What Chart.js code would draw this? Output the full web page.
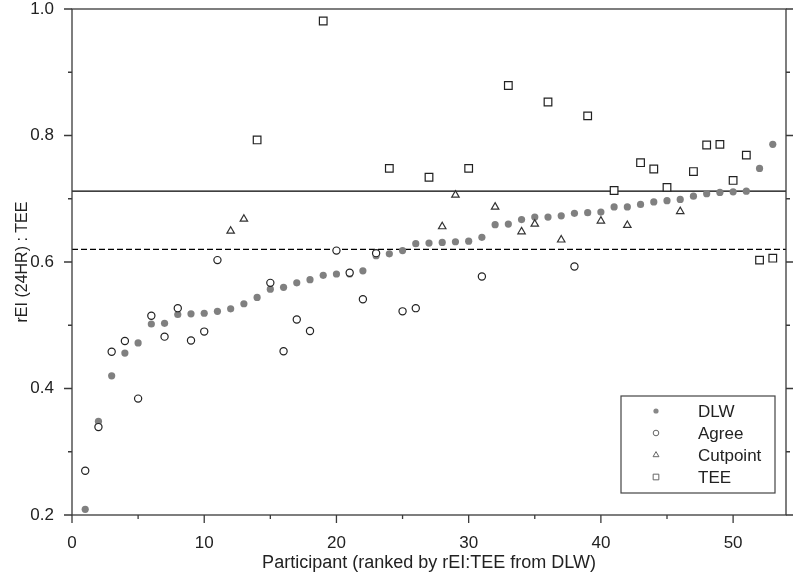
<!DOCTYPE html>
<html>
<head>
<meta charset="utf-8">
<script src="https://cdn.jsdelivr.net/npm/chart.js@4.4.0/dist/chart.umd.min.js"></script>
<style>
  body { margin: 0; background: #fff; }
  canvas { display: block; }
</style>
</head>
<body>
<canvas id="ratio" width="800" height="584"></canvas>
<script>
// rEI:TEE from DLW, participants ranked 1..53
const dlwValues = [
  0.209, 0.348, 0.420, 0.456, 0.472, 0.502, 0.503, 0.517, 0.518, 0.519,
  0.522, 0.526, 0.534, 0.544, 0.557, 0.560, 0.567, 0.572, 0.579, 0.581,
  0.581, 0.586, 0.610, 0.613, 0.618, 0.629, 0.630, 0.631, 0.632, 0.633,
  0.639, 0.659, 0.660, 0.667, 0.671, 0.671, 0.673, 0.677, 0.678, 0.679,
  0.687, 0.687, 0.691, 0.695, 0.697, 0.699, 0.704, 0.708, 0.710, 0.711,
  0.712, 0.748, 0.786
];
const agreeIds = [1, 2, 3, 4, 5, 6, 7, 8, 9, 10, 11, 15, 16, 17, 18, 20, 21, 22, 23, 25, 26, 31, 38];
const agreeValues = [0.270, 0.339, 0.458, 0.475, 0.384, 0.515, 0.482, 0.527, 0.476, 0.490, 0.603,
  0.567, 0.459, 0.509, 0.491, 0.618, 0.583, 0.541, 0.614, 0.522, 0.527, 0.577, 0.593];
const cutpointIds = [12, 13, 28, 29, 32, 34, 35, 37, 40, 42, 46];
const cutpointValues = [0.649, 0.668, 0.656, 0.706, 0.687, 0.648, 0.660, 0.635, 0.665, 0.658, 0.680];
const teeIds = [14, 19, 24, 27, 30, 33, 36, 39, 41, 43, 44, 45, 47, 48, 49, 50, 51, 52, 53];
const teeValues = [0.793, 0.981, 0.748, 0.734, 0.748, 0.879, 0.853, 0.831, 0.713, 0.757,
  0.747, 0.718, 0.743, 0.785, 0.786, 0.729, 0.769, 0.603, 0.606];

const solidLineValue = 0.712;
const dashedLineValue = 0.620;

const xMajorTicks = [0, 10, 20, 30, 40, 50];
const xMinorTicks = [5, 15, 25, 35, 45];
const yMajorTicks = [0.2, 0.4, 0.6, 0.8, 1.0];
const yMinorTicks = [0.3, 0.5, 0.7, 0.9];

const toPoints = (ids, values) => ids.map((id, i) => ({x: id, y: values[i]}));
const dlwPoints = dlwValues.map((v, i) => ({x: i + 1, y: v}));

const axisColor = '#3a3a3a';
const font = 'Arial, "Liberation Sans", sans-serif';

const extras = {
  id: 'extras',
  beforeDatasetsDraw(chart) {
    const {ctx, chartArea: a, scales: {y}} = chart;
    ctx.save();
    ctx.strokeStyle = '#000';
    ctx.lineWidth = 1.3;
    let py = y.getPixelForValue(solidLineValue);
    ctx.beginPath(); ctx.moveTo(a.left, py); ctx.lineTo(a.right, py); ctx.stroke();
    py = y.getPixelForValue(dashedLineValue);
    ctx.setLineDash([6, 3]);
    ctx.beginPath(); ctx.moveTo(a.left, py); ctx.lineTo(a.right, py); ctx.stroke();
    ctx.restore();
  },
  afterDraw(chart) {
    const {ctx, chartArea: a, scales: {x, y}} = chart;
    ctx.save();
    ctx.strokeStyle = axisColor;
    ctx.lineWidth = 1.3;
    ctx.strokeRect(a.left, a.top, a.right - a.left, a.bottom - a.top);

    ctx.beginPath();
    xMajorTicks.forEach(t => { const px = x.getPixelForValue(t); ctx.moveTo(px, a.bottom); ctx.lineTo(px, a.bottom + 8); });
    xMinorTicks.forEach(t => { const px = x.getPixelForValue(t); ctx.moveTo(px, a.bottom); ctx.lineTo(px, a.bottom + 4); });
    yMajorTicks.forEach(t => {
      const py = y.getPixelForValue(t);
      ctx.moveTo(a.left, py); ctx.lineTo(a.left - 8, py);
      ctx.moveTo(a.right, py); ctx.lineTo(a.right + 7, py);
    });
    yMinorTicks.forEach(t => {
      const py = y.getPixelForValue(t);
      ctx.moveTo(a.left, py); ctx.lineTo(a.left - 4, py);
      ctx.moveTo(a.right, py); ctx.lineTo(a.right + 4, py);
    });
    ctx.stroke();

    // legend box in the lower right corner
    const bx = 621, by = 396, bw = 154, bh = 97;
    ctx.fillStyle = '#fff';
    ctx.fillRect(bx, by, bw, bh);
    ctx.strokeStyle = '#444';
    ctx.lineWidth = 1.2;
    ctx.strokeRect(bx, by, bw, bh);
    ctx.font = '17px ' + font;
    ctx.textBaseline = 'middle';
    chart.data.datasets.forEach((ds, i) => {
      const ly = by + 15 + i * 22;
      ctx.lineWidth = 1;
      ctx.strokeStyle = '#666';
      ctx.fillStyle = ds.pointBackgroundColor === '#fff' ? '#fff' : '#888';
      Chart.helpers.drawPoint(ctx, {
        pointStyle: ds.pointStyle,
        radius: ds.legendRadius,
        rotation: 0,
        borderWidth: ds.pointBackgroundColor === '#fff' ? 1 : 0
      }, bx + 35, ly);
      ctx.fillStyle = '#222';
      ctx.fillText(ds.label, bx + 77, ly + 1);
    });
    ctx.restore();
  }
};

new Chart(document.getElementById('ratio').getContext('2d'), {
  type: 'scatter',
  data: {
    datasets: [{
      label: 'DLW',
      data: dlwPoints,
      pointStyle: 'circle',
      pointRadius: 3.6,
      pointBackgroundColor: '#808080',
      pointBorderColor: '#808080',
      pointBorderWidth: 0,
      legendRadius: 2.6,
      order: 2
    }, {
      label: 'Agree',
      data: toPoints(agreeIds, agreeValues),
      pointStyle: 'circle',
      pointRadius: 3.6,
      pointBackgroundColor: '#fff',
      pointBorderColor: '#222',
      pointBorderWidth: 1.2,
      legendRadius: 2.8,
      order: 1
    }, {
      label: 'Cutpoint',
      data: toPoints(cutpointIds, cutpointValues),
      pointStyle: 'triangle',
      pointRadius: 4.3,
      pointBackgroundColor: '#fff',
      pointBorderColor: '#333',
      pointBorderWidth: 1.2,
      legendRadius: 3.4,
      order: 1
    }, {
      label: 'TEE',
      data: toPoints(teeIds, teeValues),
      pointStyle: 'rect',
      pointRadius: 5.4,
      pointBackgroundColor: '#fff',
      pointBorderColor: '#222',
      pointBorderWidth: 1.2,
      legendRadius: 4,
      order: 1
    }]
  },
  options: {
    responsive: false,
    animation: false,
    layout: { padding: { top: 9, right: 14, left: 0, bottom: 0 } },
    plugins: { legend: { display: false }, tooltip: { enabled: false } },
    scales: {
      x: {
        type: 'linear',
        min: 0,
        max: 54,
        grid: { display: false, drawTicks: false },
        border: { display: false },
        ticks: {
          stepSize: 10,
          includeBounds: false,
          padding: 18,
          color: '#222',
          font: { family: font, size: 17 },
          maxRotation: 0,
          callback: v => (v % 10 === 0 ? String(v) : '')
        },
        title: {
          display: true,
          text: 'Participant (ranked by rEI:TEE from DLW)',
          color: '#222',
          font: { family: font, size: 18 },
          padding: { top: 0, bottom: 10 }
        },
        afterFit: s => { s.height = 69; s.paddingLeft = 0; s.paddingRight = 0; }
      },
      y: {
        min: 0.2,
        max: 1.0,
        grid: { display: false, drawTicks: false },
        border: { display: false },
        ticks: {
          stepSize: 0.2,
          padding: 18,
          color: '#222',
          font: { family: font, size: 17 },
          callback: v => v.toFixed(1)
        },
        title: {
          display: true,
          text: 'rEI (24HR) : TEE',
          color: '#222',
          font: { family: font, size: 16 },
          padding: { top: 13, bottom: 0 }
        },
        afterFit: s => { s.width = 72; s.paddingTop = 0; s.paddingBottom = 0; }
      }
    }
  },
  plugins: [extras]
});
</script>
</body>
</html>
